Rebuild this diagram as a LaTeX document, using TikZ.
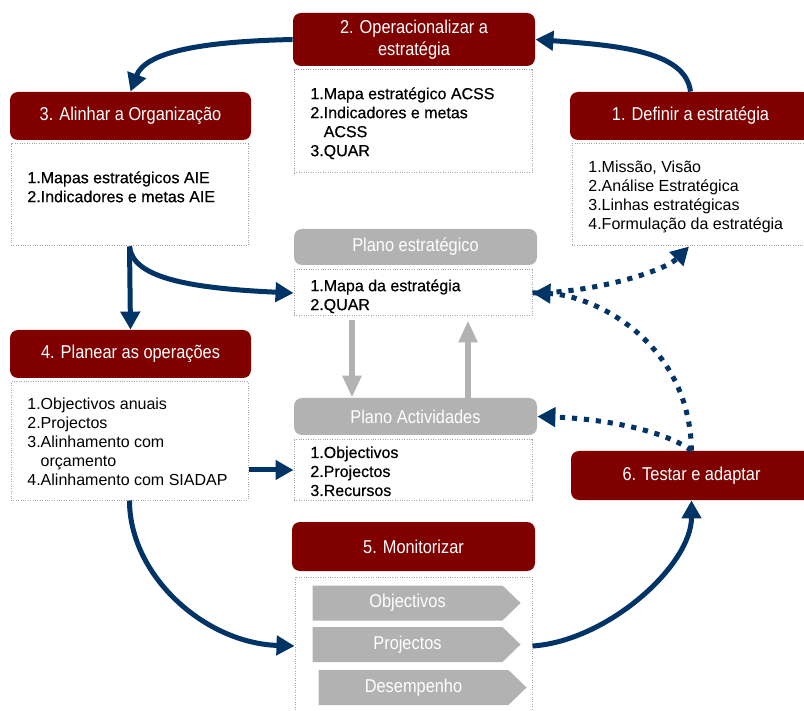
\documentclass[tikz,border=0pt]{standalone}
\usepackage{fontspec}
\setmainfont{Liberation Sans}
\newfontfamily\narrowfont[FakeStretch=0.88]{Liberation Sans}
\newfontfamily\heavyfont[FakeBold=0.5]{Liberation Sans}
\usetikzlibrary{arrows.meta,calc,shapes.symbols}
\definecolor{hdrred}{RGB}{128,0,0}
\definecolor{flowblue}{RGB}{0,51,102}
\definecolor{plangray}{RGB}{178,178,178}
\definecolor{framegray}{RGB}{165,165,165}
\tikzset{
  hdr/.style={fill=hdrred,rounded corners=4pt,text=white,inner sep=0pt,align=center,
    font=\narrowfont\fontsize{9.3}{11}\selectfont},
  planhdr/.style={hdr,fill=plangray},
  frame/.style={draw=framegray,line width=0.5pt,dash pattern=on 0.5pt off 0.7pt,inner sep=0pt},
  items/.style={align=left,anchor=north west,inner sep=0pt,font=\fontsize{8}{9.5}\selectfont},
  flow/.style={draw=flowblue,line width=2.5pt,-{Triangle[length=9pt,width=9.5pt]}},
  feedback/.style={flow,dash pattern=on 2.6pt off 3.4pt},       % dotted return arrows
  grayflow/.style={draw=plangray,line width=3pt,-{Triangle[length=11pt,width=9pt]}},
  chev/.style={signal,signal to=east,signal pointer angle=88,fill=plangray,text=white,
    inner sep=0pt,minimum width=104pt,minimum height=17.5pt,
    font=\narrowfont\fontsize{9.3}{11}\selectfont},
}

\begin{document}
\begin{tikzpicture}[x=0.5pt,y=-0.5pt]
  \useasboundingbox (0,0) rectangle (804,711);
  % headers
  \node[hdr,minimum width=121pt,minimum height=26.5pt] (oper) at (414,39.5) {2. Operacionalizar a\\estratégia};
  \node[hdr,minimum width=120.5pt,minimum height=24pt] (alin) at (130.5,116) {3. Alinhar a Organização};
  \node[hdr,minimum width=120.5pt,minimum height=24pt] (def) at (690.5,116) {1. Definir a estratégia};
  \node[hdr,minimum width=120.5pt,minimum height=24pt] (plan) at (130.5,354) {4. Planear as operações};
  \node[hdr,minimum width=121.5pt,minimum height=24.5pt] (mon) at (413.5,546.5) {5. Monitorizar};
  \node[hdr,minimum width=120.5pt,minimum height=24.5pt] (test) at (691.5,475.5) {6. Testar e adaptar};
  \node[planhdr,minimum width=121.5pt,minimum height=18pt] (pe) at (415.5,247) {Plano estratégico};
  \node[planhdr,minimum width=121.5pt,minimum height=18.5pt] (pa) at (415.5,416.5) {Plano Actividades};
  % dotted frames
  \node[frame,minimum width=119pt,minimum height=51.5pt] (b2) at (413,121.5) {};
  \node[frame,minimum width=118.5pt,minimum height=51pt] (b3) at (129.5,195) {};
  \node[frame,minimum width=117pt,minimum height=51pt] (b1) at (689,195) {};
  \node[frame,minimum width=119pt,minimum height=23pt] (bpe) at (413,293) {};
  \node[frame,minimum width=119pt,minimum height=30pt] (bpa) at (413,470) {};
  \node[frame,minimum width=118.5pt,minimum height=59pt] (b4) at (129.5,441) {};
  \node[frame,minimum width=118.5pt,minimum height=69pt] (b5) at (413.5,646) {};
  % lists
  \node[items,font=\heavyfont\fontsize{8}{9.5}\selectfont] (t2) at (310,87) {1.Mapa estratégico ACSS\\2.Indicadores e metas\\\phantom{2.}ACSS\\3.QUAR};
  \node[items,font=\heavyfont\fontsize{8}{9.5}\selectfont] (t3) at (27,171) {1.Mapas estratégicos AIE\\2.Indicadores e metas AIE};
  \node[items] (t1) at (588,161) {1.Missão, Visão\\2.Análise Estratégica\\3.Linhas estratégicas\\4.Formulação da estratégia};
  \node[items,font=\heavyfont\fontsize{8}{9.5}\selectfont] (tpe) at (310,279) {1.Mapa da estratégia\\2.QUAR};
  \node[items,font=\heavyfont\fontsize{8}{9.5}\selectfont] (tpa) at (310,446) {1.Objectivos\\2.Projectos\\3.Recursos};
  \node[items] (t4) at (27,398) {1.Objectivos anuais\\2.Projectos\\3.Alinhamento com\\\phantom{3.}orçamento\\4.Alinhamento com SIADAP};
  % monitoring chevrons
  \node[chev] (cobj) at (407.5,603) {Objectivos};
  \node[chev] (cproj) at (407.5,644.5) {Projectos};
  \node[chev] (cdes) at (413.5,687.5) {Desempenho};
  % cycle arrows
  \draw[flow] (def.north) .. controls +(-5,-40) and +(85,6) .. (oper.east);
  \draw[flow] (oper.west) .. controls +(-90,2) and +(15,-40) .. (alin.north);
  \draw[flow] (b3.south) -- (plan.north);
  \draw[flow] (b3.south) .. controls +(3,30) and +(-110,-5) .. (bpe.west);
  \draw[flow] (b4.east |- bpa.west) -- (bpa.west);
  \draw[flow] (b4.south) .. controls +(0,75) and +(-90,-3) .. (b5.west);
  \draw[flow] (b5.east) .. controls +(75,-5) and +(0,65) .. (test.south);
  % feedback
  \draw[feedback] (test.north) .. controls +(-30,-22) and +(60,2) .. (pa.east);
  \draw[feedback] (test.north) .. controls +(-2,-110) and +(60,2) .. (bpe.east);
  \draw[feedback] (bpe.east) .. controls +(60,0) and +(-25,25) .. (b1.south);
  % plan links
  \coordinate (gdn) at (352,0);
  \coordinate (gup) at (468,0);
  \draw[grayflow,shorten <=2pt] (bpe.south -| gdn) -- (pa.north -| gdn);
  \draw[grayflow,shorten >=2pt] (pa.north -| gup) -- (bpe.south -| gup);
\end{tikzpicture}
\end{document}
